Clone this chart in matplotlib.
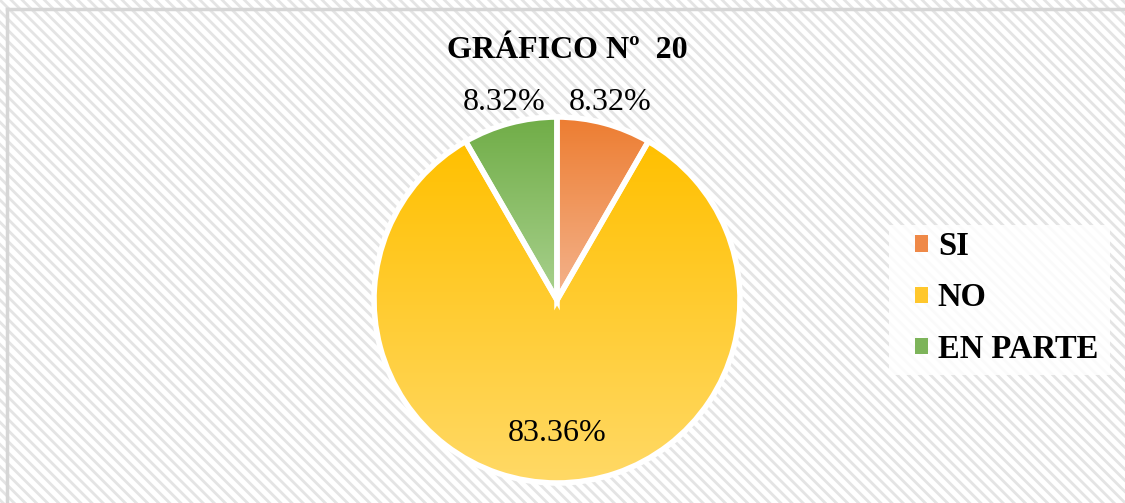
import numpy as np
import matplotlib
matplotlib.use("Agg")
import matplotlib.pyplot as plt
from matplotlib.patches import Rectangle, Patch
from matplotlib.colors import LinearSegmentedColormap

# datos del grafico
categorias = ["SI", "NO", "EN PARTE"]
porcentajes = [8.32, 83.36, 8.32]
etiquetas = ["8.32%", "83.36%", "8.32%"]
titulo = "GRÁFICO Nº  20"

# colores (arriba, abajo) del degradado de cada sector
col_arriba = ["#ED7D31", "#FFC000", "#70AD47"]
col_abajo = ["#F4B48E", "#FFD966", "#A9D18E"]
col_leyenda = ["#EF8948", "#FFC72C", "#7DB45A"]

plt.rcParams["font.family"] = ["Liberation Serif", "DejaVu Serif"]
plt.rcParams["hatch.linewidth"] = 2.0

W, H = 1125, 503
fig = plt.figure(figsize=(W / 100, H / 100), dpi=100)

# fondo rayado
fondo = Rectangle((0, 0), 1, 1, transform=fig.transFigure, facecolor="white",
                  edgecolor="#E4E4E4", hatch="\\\\\\", linewidth=0, zorder=-10)
fig.patches.append(fondo)
# borde izquierdo y superior
fig.add_artist(plt.Line2D([7 / W, 7 / W], [0, 1 - 9 / H], color="#D6D6D6", lw=2.5))
fig.add_artist(plt.Line2D([7 / W, 1], [1 - 9 / H, 1 - 9 / H], color="#D6D6D6", lw=2.5))

# caja blanca de la leyenda
fig.patches.append(Rectangle((889 / W, 1 - 375 / H), 221 / W, 150 / H,
                             transform=fig.transFigure, facecolor="white",
                             alpha=0.85, edgecolor="none", zorder=-5))

# ejes del pastel: centro en (557, 300) px, radio 183 px
R = 183
cx, cy = 557, H - 300
half = 200
ax = fig.add_axes([(cx - half) / W, (cy - half) / H, 2 * half / W, 2 * half / H])
ax.axis("off")

wedges, _ = ax.pie(porcentajes, startangle=90, counterclock=False, radius=1,
                   wedgeprops=dict(edgecolor="white", linewidth=4))

grad = np.linspace(0, 1, 256).reshape(-1, 1)
for w, c1, c2 in zip(wedges, col_arriba, col_abajo):
    ext = w.get_path().get_extents()
    cmap = LinearSegmentedColormap.from_list("g", [c1, c2])
    im = ax.imshow(grad, cmap=cmap, aspect="auto", origin="upper",
                   extent=[ext.x0, ext.x1, ext.y0, ext.y1], zorder=1)
    im.set_clip_path(w)
    w.set_facecolor("none")
    w.set_zorder(2)

ax.set_xlim(-half / R, half / R)
ax.set_ylim(-half / R, half / R)
ax.set_aspect("equal")

# etiquetas de porcentaje
for w, txt, p in zip(wedges, etiquetas, porcentajes):
    ang = np.deg2rad((w.theta1 + w.theta2) / 2)
    d = 1.12 if p < 20 else 0.73
    ax.text(d * np.cos(ang), d * np.sin(ang), txt, ha="center", va="center",
            fontsize=23, zorder=5)

fig.text(567 / W, 1 - 51 / H, titulo, ha="center", va="center",
         fontsize=23, fontweight="bold")

handles = [Patch(facecolor=c, edgecolor="none") for c in col_leyenda]
leg = fig.legend(handles, categorias, loc="center left",
                 bbox_to_anchor=(915 / W, 1 - 298 / H),
                 prop=dict(size=23.5, weight="bold"), frameon=False,
                 handlelength=0.4, handleheight=0.4, handletextpad=0.3,
                 labelspacing=0.62, borderpad=0, borderaxespad=0)

fig.savefig("out.png", dpi=100)
